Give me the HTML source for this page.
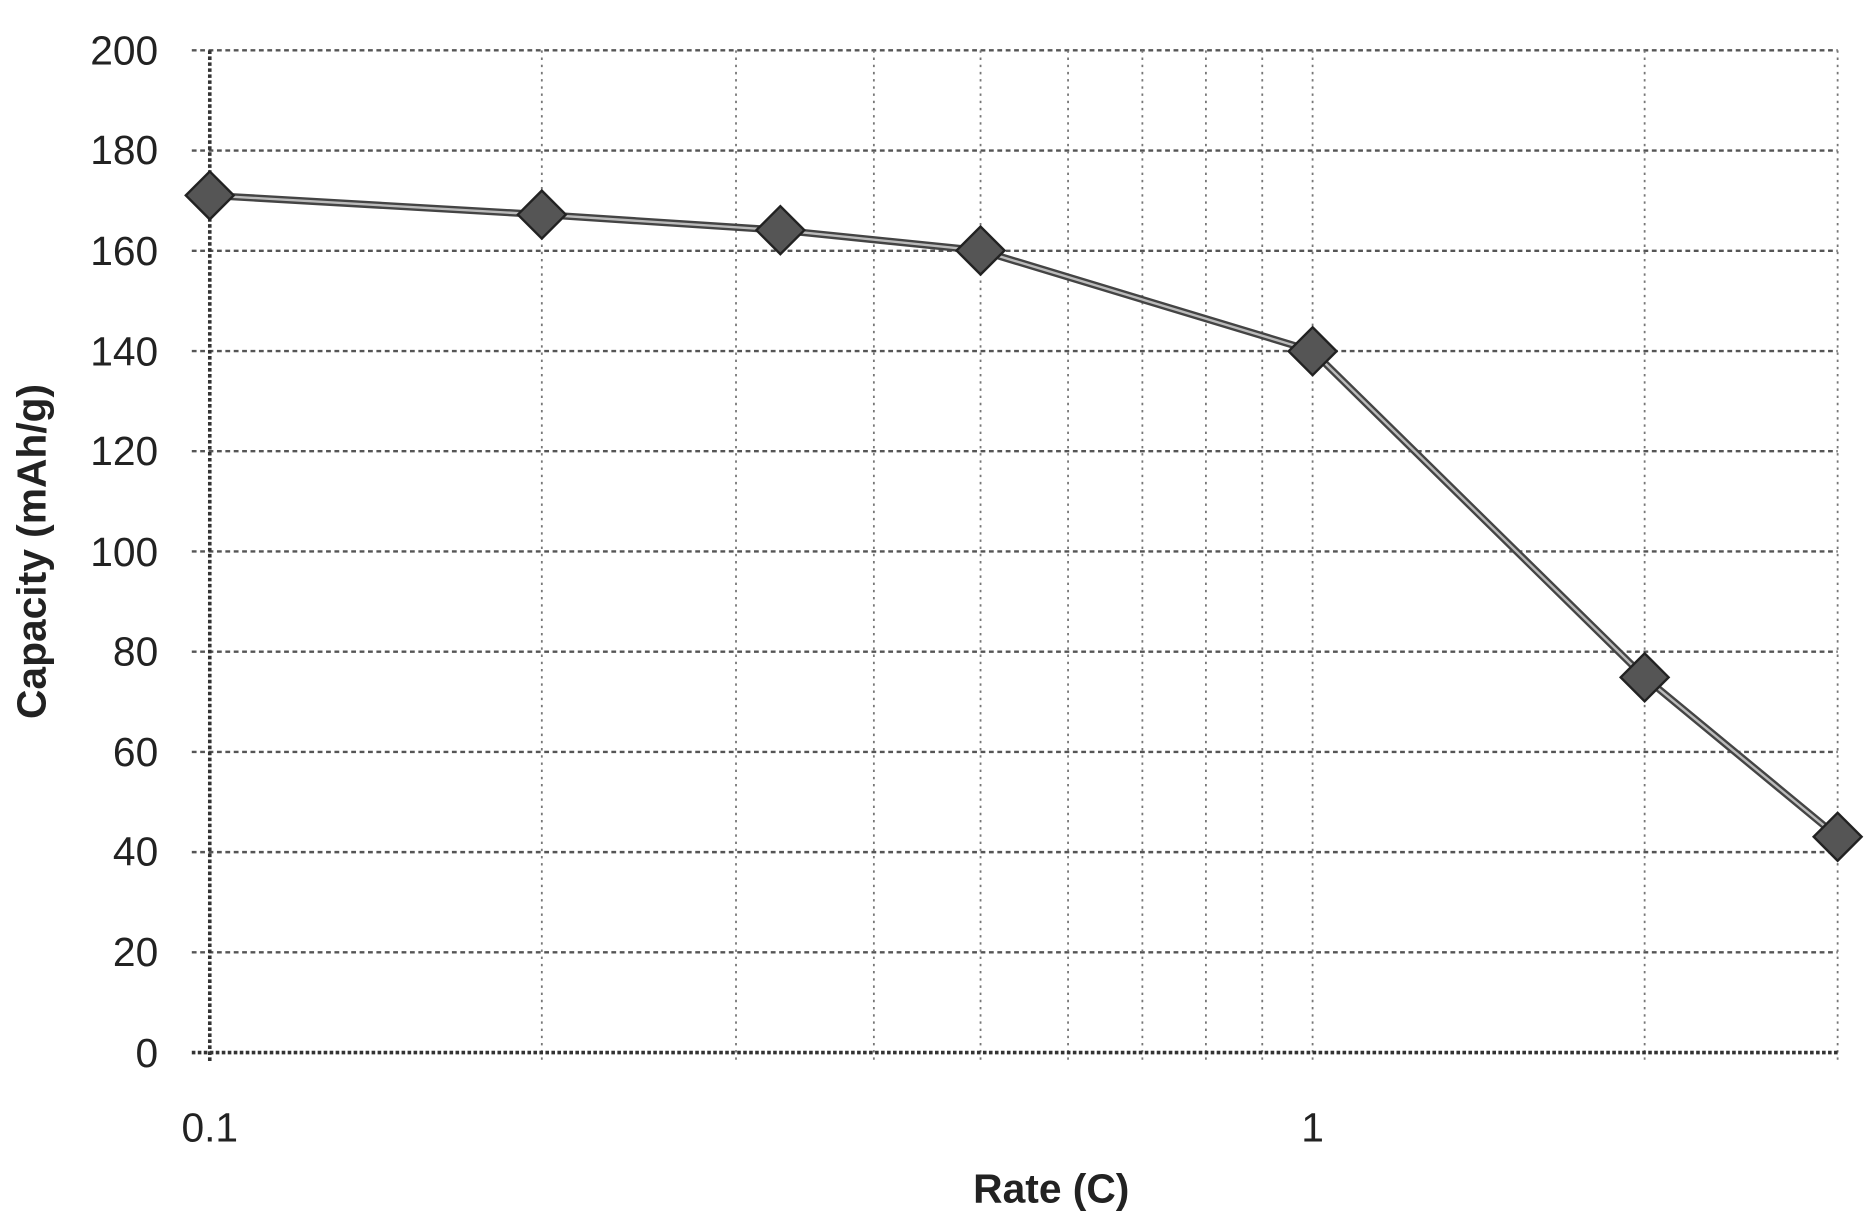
<!DOCTYPE html>
<html><head><style>html,body{margin:0;padding:0;background:#fff}svg{display:block}</style></head>
<body>
<svg width="1870" height="1212" viewBox="0 0 1560 1011" preserveAspectRatio="none" xmlns="http://www.w3.org/2000/svg" font-family="Liberation Sans, sans-serif">
<g stroke="#555" stroke-width="2" stroke-dasharray="4,3">
<line x1="160" y1="42" x2="1533" y2="42"/><line x1="160" y1="125.6" x2="1533" y2="125.6"/><line x1="160" y1="209.2" x2="1533" y2="209.2"/><line x1="160" y1="292.8" x2="1533" y2="292.8"/><line x1="160" y1="376.4" x2="1533" y2="376.4"/><line x1="160" y1="460" x2="1533" y2="460"/><line x1="160" y1="543.6" x2="1533" y2="543.6"/><line x1="160" y1="627.2" x2="1533" y2="627.2"/><line x1="160" y1="710.8" x2="1533" y2="710.8"/><line x1="160" y1="794.4" x2="1533" y2="794.4"/>
</g>
<g stroke="#777" stroke-width="1.5" stroke-dasharray="2,4">
<line x1="452" y1="42" x2="452" y2="885"/><line x1="614" y1="42" x2="614" y2="885"/><line x1="729" y1="42" x2="729" y2="885"/><line x1="818" y1="42" x2="818" y2="885"/><line x1="891" y1="42" x2="891" y2="885"/><line x1="953" y1="42" x2="953" y2="885"/><line x1="1006" y1="42" x2="1006" y2="885"/><line x1="1053" y1="42" x2="1053" y2="885"/><line x1="1095" y1="42" x2="1095" y2="885"/><line x1="1372" y1="42" x2="1372" y2="885"/><line x1="1533" y1="42" x2="1533" y2="885"/>
</g>
<line x1="175" y1="42" x2="175" y2="885" stroke="#333" stroke-width="3" stroke-dasharray="3,2"/>
<line x1="160" y1="878" x2="1533" y2="878" stroke="#333" stroke-width="3" stroke-dasharray="3,2"/>
<polyline points="175,163 452,179 651,192 818,209 1095,292.8 1372,565 1533,698" fill="none" stroke="#444" stroke-width="6"/>
<polyline points="175,163 452,179 651,192 818,209 1095,292.8 1372,565 1533,698" fill="none" stroke="#bbb" stroke-width="2"/>
<g fill="#555" stroke="#222" stroke-width="2">
<path d="M175,143l20,20l-20,20l-20,-20z"/><path d="M452,159l20,20l-20,20l-20,-20z"/><path d="M651,172l20,20l-20,20l-20,-20z"/><path d="M818,189l20,20l-20,20l-20,-20z"/><path d="M1095,273l20,20l-20,20l-20,-20z"/><path d="M1372,545l20,20l-20,20l-20,-20z"/><path d="M1533,678l20,20l-20,20l-20,-20z"/>
</g>
<g font-size="34" fill="#222" text-anchor="end">
<text x="132" y="54">200</text><text x="132" y="137">180</text><text x="132" y="221">160</text><text x="132" y="305">140</text><text x="132" y="388">120</text><text x="132" y="472">100</text><text x="132" y="555">80</text><text x="132" y="639">60</text><text x="132" y="722">40</text><text x="132" y="806">20</text><text x="132" y="890">0</text>
</g>
<g font-size="34" fill="#222" text-anchor="middle">
<text x="175" y="952">0.1</text><text x="1095" y="952">1</text>
<text x="877" y="1003" font-weight="bold">Rate (C)</text>
<text transform="translate(38,460) rotate(-90)" font-weight="bold">Capacity (mAh/g)</text>
</g>
</svg>
</body></html>
